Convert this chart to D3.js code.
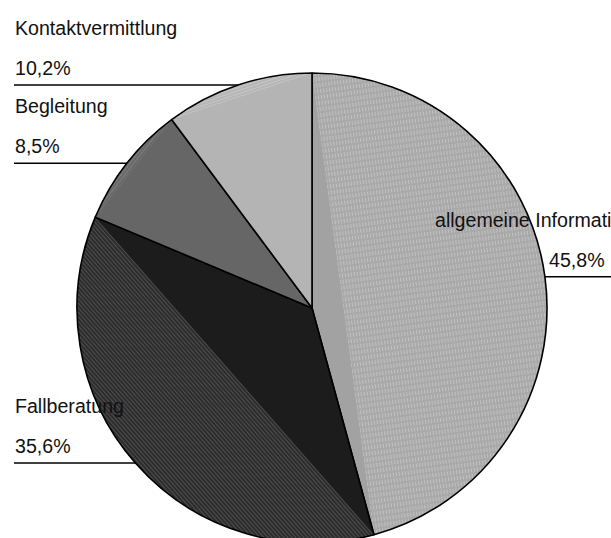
<!DOCTYPE html>
<html>
<head>
<meta charset="utf-8">
<script src="https://cdn.jsdelivr.net/npm/d3@7"></script>
<style>
  body { margin: 0; background: #fff; }
  svg { display: block; }
  text { font-family: "Liberation Sans", Arial, sans-serif; font-size: 19.6px; fill: #111; }
</style>
</head>
<body>
<svg id="chart" width="611" height="538"></svg>
<script>
// data
var labels = ["allgemeine Information", "Fallberatung", "Begleitung", "Kontaktvermittlung"];
var values = [45.8, 35.6, 8.5, 10.2];
var pctLabels = ["45,8%", "35,6%", "8,5%", "10,2%"];

// styling: solid core triangle + striped outer segment (gradient look)
var coreColors = ["#a2a2a2", "#1c1c1c", "#666666", "#b4b4b4"];
var stripeBase = ["#a9a9a9", "#2c2c2c", "#686868", "#b6b6b6"];
var stripeLine = ["#c2c2c2", "#4f4f4f", "#7e7e7e", "#c6c6c6"];

var width = 611, height = 538;
var cx = 312, cy = 308, radius = 235;
var leftLabelX = 15, rightNameX = 435, rightPctX = 549;

var svg = d3.select("#chart");
var defs = svg.append("defs");

var pie = d3.pie().sort(null).value(function(d) { return d; });
var arcs = pie(values);

var arc = d3.arc().innerRadius(0).outerRadius(radius);

function pt(a) { return [radius * Math.sin(a), -radius * Math.cos(a)]; }

// patterns, lines running parallel to each slice's chord
arcs.forEach(function(d, i) {
  var p0 = pt(d.startAngle), p1 = pt(d.endAngle);
  var ang = Math.atan2(p1[1] - p0[1], p1[0] - p0[0]) * 180 / Math.PI;
  var pat = defs.append("pattern")
    .attr("id", "pat" + i)
    .attr("patternUnits", "userSpaceOnUse")
    .attr("width", 6).attr("height", 3)
    .attr("patternTransform", "rotate(" + ang + ")");
  pat.append("rect").attr("width", 6).attr("height", 3).attr("fill", stripeBase[i]);
  if (i == 0) {
    // broken streaks
    pat.append("rect").attr("x", 0).attr("y", 1).attr("width", 4).attr("height", 1).attr("fill", stripeLine[i]);
  } else {
    pat.append("rect").attr("x", 0).attr("y", 1).attr("width", 6).attr("height", 1).attr("fill", stripeLine[i]);
  }
});

// leader lines (under the pie)
var lines = svg.append("g");
arcs.forEach(function(d, i) {
  var mid = (d.startAngle + d.endAngle) / 2;
  var p = pt(mid);
  var px = cx + p[0], py = cy + p[1];
  var x1 = p[0] < 0 ? leftLabelX - 1 : px;
  var x2 = p[0] < 0 ? px : width;
  lines.append("line")
    .attr("x1", x1).attr("x2", x2)
    .attr("y1", py).attr("y2", py)
    .attr("stroke", "#000").attr("stroke-width", 1.5);
});

var g = svg.append("g").attr("transform", "translate(" + cx + "," + cy + ")");

var slices = g.selectAll("g.slice")
  .data(arcs)
  .enter().append("g").attr("class", "slice");

slices.append("path")
  .attr("d", arc)
  .attr("fill", function(d, i) { return "url(#pat" + i + ")"; });

slices.append("path")
  .attr("d", function(d) {
    var p0 = pt(d.startAngle), p1 = pt(d.endAngle);
    return "M0,0L" + p0[0] + "," + p0[1] + "L" + p1[0] + "," + p1[1] + "Z";
  })
  .attr("fill", function(d, i) { return coreColors[i]; });

slices.append("path")
  .attr("d", arc)
  .attr("fill", "none")
  .attr("stroke", "#000")
  .attr("stroke-width", 1.6)
  .attr("stroke-linejoin", "round");

// labels on top
var lab = svg.append("g");
arcs.forEach(function(d, i) {
  var mid = (d.startAngle + d.endAngle) / 2;
  var p = pt(mid);
  var py = cy + p[1];
  var left = p[0] < 0;
  lab.append("text")
    .attr("x", left ? leftLabelX : rightNameX)
    .attr("y", py - 50)
    .text(labels[i]);
  lab.append("text")
    .attr("x", left ? leftLabelX : rightPctX)
    .attr("y", py - 10)
    .text(pctLabels[i]);
});
</script>
</body>
</html>
